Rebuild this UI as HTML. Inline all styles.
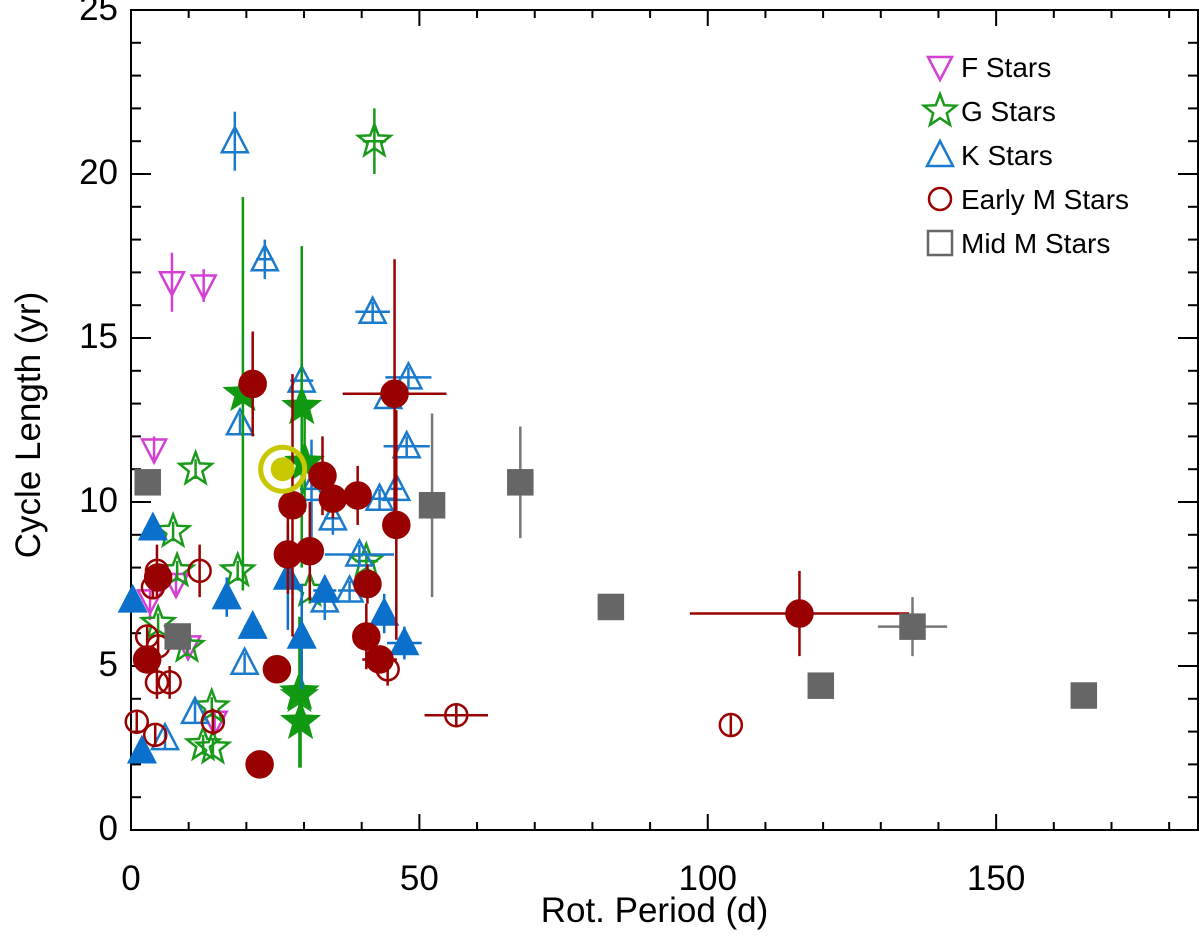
<!DOCTYPE html>
<html><head><meta charset="utf-8"><style>
html,body{margin:0;padding:0;background:#fff;}
svg{display:block;font-family:"Liberation Sans",sans-serif;}
</style></head><body>
<svg id="chart" width="1200" height="936"></svg>
<script>
// data: [x, y, xerr, yerr]
const fStars = [[7.1,16.7,0,0.9],[12.6,16.6,0,0.5],[4.0,11.6,0,0.4],[3.3,7.0,0,0.6],[7.8,7.5,0,0.3],[9.9,5.6,0,0.3],[14.5,3.3,0,0.3]];
const gOpen = [[42.2,21.0,2,1.0],[11.2,11.0,0,0.3],[7.3,9.1,0,0.3],[18.5,7.9,0,0.3],[8.0,7.9,0,0.3],[4.7,6.3,0,0.3],[9.7,5.6,0,0.3],[14.0,3.75,0,0.3],[14.2,2.5,0,0.3],[12.5,2.6,0,0.3],[40.8,8.2,2,0.3],[31.0,7.3,0,0.4],[29.2,4.1,1.5,0.3]];
const gFilled = [[19.4,13.3,0,6.0],[29.6,12.9,0,4.9],[30.1,11.2,0,1.5],[29.2,4.2,0,2.3],[29.4,3.3,0,1.4]];
const kOpen = [[18.0,21.0,0,0.9],[23.2,17.4,1.5,0.6],[41.9,15.8,3,0.3],[29.6,13.7,2,1.0],[48.1,13.8,4,0.3],[44.6,13.2,1,0.3],[18.9,12.4,0,0.3],[47.8,11.7,4,0.3],[31.3,10.4,2,1.5],[35.0,9.5,1.5,0.5],[43.1,10.1,3,0.3],[46.0,10.4,1,0.3],[39.6,8.4,6,0.3],[33.6,7.0,2,0.6],[37.9,7.3,2,0.3],[19.7,5.1,0,0.3],[11.1,3.6,0,0.3],[5.9,2.8,0,0.3]];
const kFilled = [[3.8,9.2,0,0.3],[0.3,7.0,0,0.3],[16.6,7.1,0,0.6],[21.1,6.2,1.5,0.3],[27.2,7.7,0,1.6],[33.6,7.3,2,0.3],[29.6,5.9,0,1.6],[43.9,6.6,0,0.6],[47.4,5.7,3,0.5],[1.9,2.4,0,0.3]];
const mOpen = [[4.5,7.9,0,0.8],[11.9,7.9,0,0.8],[3.8,7.4,0,0.3],[2.8,5.9,0,0.3],[4.7,5.6,0,0.3],[4.5,4.5,0,0.5],[6.7,4.5,0,0.5],[14.2,3.3,0,0.4],[1.0,3.3,0,0.3],[4.2,2.9,0,0.3],[44.5,4.9,0,0.5],[56.4,3.5,5.5,0.3],[104,3.2,0,0.3]];
const mFilled = [[21.1,13.6,0,1.6],[45.7,13.3,9,4.1],[33.2,10.8,0,1.2],[35.0,10.1,0,0.6],[39.3,10.2,0,0.9],[28.0,9.9,1.5,4.0],[46.0,9.3,0,3.5],[27.2,8.4,0,1.2],[31.0,8.5,0,1.5],[4.7,7.7,0,0.3],[41.0,7.5,0,0.6],[40.8,5.9,0,1.0],[43.1,5.2,3,0.3],[2.8,5.2,0,0.3],[25.3,4.9,0,0.3],[22.3,2.0,0,0.3],[115.9,6.6,19,1.3]];
const midM = [[2.9,10.6,0,0.3],[8.1,5.9,0,0.3],[52.2,9.9,0,2.8],[67.5,10.6,0,1.7],[83.2,6.8,0,0],[119.6,4.4,0,0],[135.5,6.2,6,0.9],[165.2,4.1,0,0]];
const sun = [26.3,11.0];
const xTicks = [0,50,100,150];
const yTicks = [0,5,10,15,20,25];

const svg = document.getElementById('chart');
const NS = 'http://www.w3.org/2000/svg';
const L=131,R=1198,T=10,B=830,XMAX=185,YMAX=25;
const X = v => L + v*(R-L)/XMAX;
const Y = v => B - v*(B-T)/YMAX;
function mk(tag, attrs, parent){const e=document.createElementNS(NS,tag);for(const k in attrs)e.setAttribute(k,attrs[k]);(parent||svg).appendChild(e);return e;}

const ax = mk('g',{});


mk('rect',{x:L,y:T,width:R-L,height:B-T,fill:'none',stroke:'#000','stroke-width':2},ax);
for(let v=0; v<=XMAX; v+=10){const maj=v%50===0,len=maj?16:8;
 mk('line',{x1:X(v),x2:X(v),y1:B,y2:B-len,stroke:'#000','stroke-width':2},ax);
 mk('line',{x1:X(v),x2:X(v),y1:T,y2:T+len,stroke:'#000','stroke-width':2},ax);}
for(let v=0; v<=YMAX; v+=1){const maj=v%5===0,len=maj?20:10;
 mk('line',{x1:L,x2:L+len,y1:Y(v),y2:Y(v),stroke:'#000','stroke-width':2},ax);
 mk('line',{x1:R,x2:R-len,y1:Y(v),y2:Y(v),stroke:'#000','stroke-width':2},ax);}
xTicks.forEach(v=>{const t=mk('text',{x:X(v),y:890,'font-size':35,'text-anchor':'middle'},ax);t.textContent=v;
 
 });
yTicks.forEach(v=>{const t=mk('text',{x:118,y:Y(v)+10,'font-size':35,'text-anchor':'end'},ax);t.textContent=v;
 
 });
const xt=mk('text',{x:X(XMAX/2)-10,y:922,'font-size':35,'text-anchor':'middle'});xt.textContent='Rot. Period (d)';


const yt=mk('text',{x:0,y:0,'font-size':35,'text-anchor':'middle',transform:'translate(40,'+(Y(12.5)+5)+') rotate(-90)'});yt.textContent='Cycle Length (yr)';



function starPts(cx,cy,r){let p=[];for(let i=0;i<10;i++){const rr=i%2?r*0.42:r;const a=-Math.PI/2+i*Math.PI/5;p.push((cx+rr*Math.cos(a)).toFixed(1)+','+(cy+rr*Math.sin(a)).toFixed(1));}return p.join(' ');}
function marker(g,shape,cx,cy,col,filled){
 const f=filled?col:'none',sw=2.5;
 if(shape==='tri') mk('polygon',{points:`${cx-13},${cy+11} ${cx+13},${cy+11} ${cx},${cy-14}`,fill:f,stroke:col,'stroke-width':sw},g);
 else if(shape==='itri') mk('polygon',{points:`${cx-12},${cy-10} ${cx+12},${cy-10} ${cx},${cy+13}`,fill:f,stroke:col,'stroke-width':sw},g);
 else if(shape==='star') mk('polygon',{points:starPts(cx,cy,filled?18:17),fill:f,stroke:col,'stroke-width':sw},g);
 else if(shape==='circ') mk('circle',{cx:cx,cy:cy,r:filled?13:11,fill:f,stroke:col,'stroke-width':sw},g);
 else if(shape==='sq') mk('rect',{x:cx-12,y:cy-12,width:24,height:24,fill:f,stroke:col,'stroke-width':sw},g);
}
function series(name,data,shape,col,filled,ecol){
 const g=mk('g',{});
 
 
 data.forEach(d=>{const cx=X(d[0]),cy=Y(d[1]);
  if(d[2]>0) mk('line',{x1:X(d[0]-d[2]),x2:X(d[0]+d[2]),y1:cy,y2:cy,stroke:ecol||col,'stroke-width':2.5},g);
  if(d[3]>0) mk('line',{x1:cx,x2:cx,y1:Y(d[1]-d[3]),y2:Y(d[1]+d[3]),stroke:ecol||col,'stroke-width':2.5},g);
  marker(g,shape,cx,cy,col,filled);});
}
series('f-stars-series',fStars,'itri','#d43fd4',false);
series('g-stars-open-series',gOpen,'star','#1a9a1a',false);
series('k-stars-open-series',kOpen,'tri','#1a7acc',false);
series('early-m-open-series',mOpen,'circ','#990000',false);
series('g-stars-filled-series',gFilled,'star','#119911',true);
series('k-stars-filled-series',kFilled,'tri','#0a70cc',true);
series('early-m-filled-series',mFilled,'circ','#990000',true);
series('mid-m-series',midM,'sq','#666666',true,'#777');
const sg=mk('g',{});


mk('circle',{cx:X(sun[0]),cy:Y(sun[1]),r:22,fill:'none',stroke:'#c8c800','stroke-width':5},sg);
mk('circle',{cx:X(sun[0]),cy:Y(sun[1]),r:12,fill:'#c8c800'},sg);

const lg=mk('g',{});


const legItems=[['F Stars','itri','#d43fd4'],['G Stars','star','#1a9a1a'],['K Stars','tri','#1a7acc'],['Early M Stars','circ','#990000'],['Mid M Stars','sq','#666666']];
legItems.forEach((it,i)=>{const cy=67+i*44;
 const e=mk('g',{},lg);
 
 
 marker(e,it[1],940,cy,it[2],false);
 const t=mk('text',{x:961,y:cy+10,'font-size':28},e);t.textContent=it[0];});
</script>
</body></html>
